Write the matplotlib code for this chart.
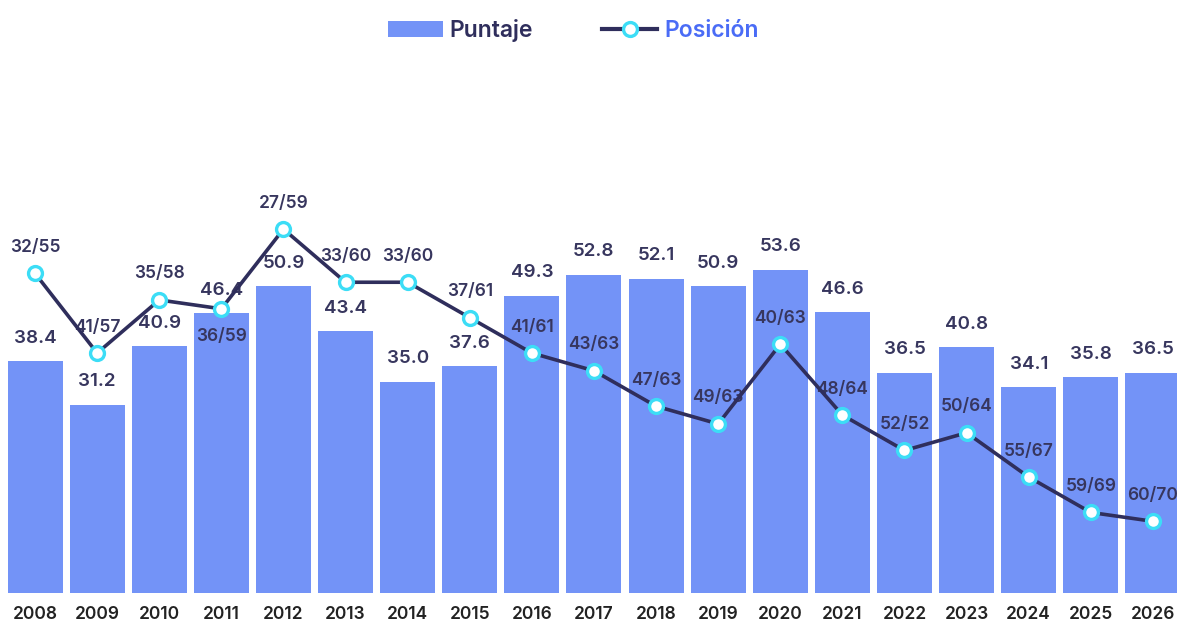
import matplotlib.pyplot as plt
from matplotlib.patches import Patch
from matplotlib.lines import Line2D

# =====================================
# Data
# =====================================

years = ["2008", "2009", "2010", "2011", "2012", "2013", "2014", "2015", "2016", "2017",
         "2018", "2019", "2020", "2021", "2022", "2023", "2024", "2025", "2026"]

puntaje = [38.4, 31.2, 40.9, 46.4, 50.9, 43.4, 35.0, 37.6, 49.3, 52.8,
           52.1, 50.9, 53.6, 46.6, 36.5, 40.8, 34.1, 35.8, 36.5]

posicion = [32, 41, 35, 36, 27, 33, 33, 37, 41, 43,
            47, 49, 40, 48, 52, 50, 55, 59, 60]

total = [55, 57, 58, 59, 59, 60, 60, 61, 61, 63,
         63, 63, 63, 64, 52, 64, 67, 69, 70]

# rank labels drawn under the marker instead of above
labels_below = ["2011"]

# =====================================
# Style
# =====================================

plt.rcParams["font.family"] = ["Inter", "DejaVu Sans"]

BAR_COLOR = "#7393F7"
LINE_COLOR = "#2F2E5C"
MARKER_EDGE = "#3CDDF6"
TEXT_COLOR = "#37365E"
LEGEND_BLUE = "#4A6CF6"

# =====================================
# Figure
# =====================================

fig = plt.figure(figsize=(11.77, 6.29), dpi=100)
ax = fig.add_axes([0.0034, 0.0572, 1.0025, 0.8474])
ax2 = ax.twinx()

x = list(range(len(years)))

ax.bar(x, puntaje, width=0.885, color=BAR_COLOR, zorder=1)

for xi, v in zip(x, puntaje):
    ax.annotate(f"{v:.1f}", (xi, v), xytext=(0, 23), textcoords="offset pixels",
                ha="center", va="center", fontsize=13.5, fontweight="semibold",
                color=TEXT_COLOR, zorder=2)

ax2.plot(x, posicion, color=LINE_COLOR, linewidth=2.6, zorder=3,
         marker="o", markersize=10, markerfacecolor="white",
         markeredgecolor=MARKER_EDGE, markeredgewidth=2.4)

for xi, yr, p, t in zip(x, years, posicion, total):
    dy = 28 if yr in labels_below else -26
    ax2.annotate(f"{p}/{t}", (xi, p), xytext=(0, -dy), textcoords="offset pixels",
                 ha="center", va="center", fontsize=12.5, fontweight="semibold",
                 color=TEXT_COLOR, zorder=2)

ax.set_xlim(-0.5, len(years) - 0.5)
ax.set_ylim(0, 88.4)
ax2.set_ylim(68.1, 7.9)

ax.set_xticks(x)
ax.set_xticklabels(years, fontsize=12.5, fontweight="semibold", color="#222222")
ax.tick_params(axis="x", length=0, pad=9)
ax.set_yticks([])
ax2.set_yticks([])

for a in (ax, ax2):
    for s in a.spines.values():
        s.set_visible(False)

# =====================================
# Legend
# =====================================

handles = [
    Patch(facecolor=BAR_COLOR, edgecolor="none"),
    Line2D([0], [0], color=LINE_COLOR, linewidth=3, marker="o", markersize=10,
           markerfacecolor="white", markeredgecolor=MARKER_EDGE, markeredgewidth=2.4),
]

leg = fig.legend(handles, ["Puntaje", "Posición"], loc="upper center",
                 bbox_to_anchor=(0.487, 1.003), ncol=2, frameon=False,
                 prop={"size": 16.5, "weight": "semibold"},
                 handlelength=2.4, handleheight=0.7, handletextpad=0.3,
                 columnspacing=3.0)

leg.get_texts()[0].set_color(LINE_COLOR)
leg.get_texts()[1].set_color(LEGEND_BLUE)

fig.savefig("out.png", dpi=100)
